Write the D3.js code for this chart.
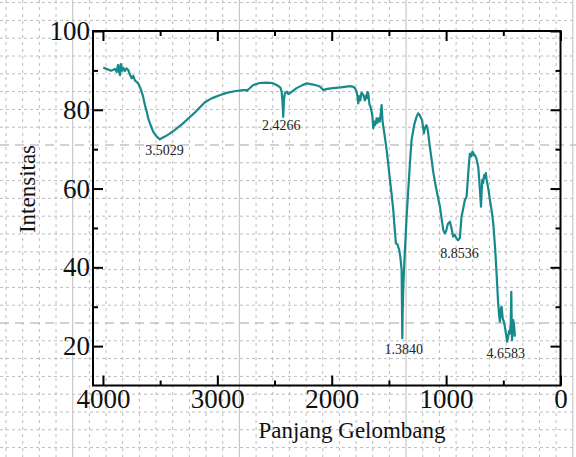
<!DOCTYPE html>
<html>
<head>
<meta charset="utf-8">
<script src="https://cdn.jsdelivr.net/npm/d3@7"></script>
<style>
  body { margin: 0; background: #fff; }
  svg { display: block; }
</style>
</head>
<body>
<svg id="chart" width="576" height="457"></svg>
<script>
// FTIR spectrum (wavenumber, %T)
const wavenumber = [
  3997, 3960, 3930, 3905, 3895, 3880, 3870, 3866, 3858, 3851, 3843, 3835, 3823, 3810,
  3795, 3779, 3765, 3749, 3735, 3720, 3705, 3690, 3675, 3662, 3648, 3633, 3618, 3604,
  3585, 3560, 3530, 3502, 3480, 3458, 3420, 3371, 3310, 3254, 3200, 3150, 3108, 3050,
  2980, 2919, 2850, 2774, 2755, 2744, 2720, 2686, 2630, 2569, 2520, 2482, 2450, 2438,
  2430, 2424, 2418, 2409, 2390, 2380, 2365, 2340, 2307, 2260, 2219, 2160, 2103, 2074,
  2040, 1987, 1920, 1841, 1810, 1797, 1790, 1783, 1775, 1768, 1760, 1750, 1740, 1724,
  1710, 1700, 1695, 1688, 1681, 1670, 1660, 1651, 1644, 1637, 1628, 1620, 1608, 1600,
  1593, 1580, 1570, 1564, 1556, 1549, 1535, 1520, 1505, 1491, 1475, 1462, 1450, 1439,
  1425, 1410, 1400, 1389, 1386, 1383, 1380, 1375, 1368, 1360, 1345, 1331, 1315, 1302,
  1280, 1259, 1244, 1230, 1210, 1200, 1194, 1185, 1171, 1160, 1142, 1125, 1113, 1090,
  1070, 1054, 1040, 1025, 1011, 1000, 985, 967, 955, 938, 925, 910, 894, 880, 865, 850,
  836, 821, 810, 798, 792, 780, 770, 763, 755, 748, 735, 719, 705, 695, 690, 684, 676,
  668, 661, 653, 646, 630, 617, 600, 588, 572, 559, 545, 537, 530, 522, 515, 505, 495,
  486, 476, 466, 458, 450, 442, 435, 430, 428, 424, 418, 413, 405, 399, 394, 390
]
const transmittance = [
  90.7, 90.3, 89.9, 90.2, 90.4, 89.6, 91.2, 91.4, 89.5, 88.8, 91.6, 89.9, 90.7, 89.8,
  90.5, 90.1, 89.0, 88.0, 88.6, 87.4, 87.1, 86.6, 85.6, 84.6, 83.2, 81.2, 79.6, 77.8,
  76.2, 74.4, 73.2, 72.5, 72.9, 73.2, 73.9, 74.9, 76.3, 77.8, 79.2, 80.7, 81.9, 82.9,
  83.7, 84.3, 84.7, 85.0, 85.0, 84.8, 85.4, 86.3, 86.8, 86.9, 86.8, 86.3, 85.7, 84.6,
  82.0, 78.2, 82.5, 84.2, 84.6, 84.0, 84.2, 84.8, 85.5, 86.2, 86.7, 86.4, 85.9, 85.0,
  85.3, 85.5, 85.7, 86.0, 85.8, 85.5, 85.1, 84.6, 83.4, 81.6, 83.5, 82.4, 84.3, 83.8,
  82.4, 83.6, 82.9, 84.5, 84.2, 81.4, 80.6, 79.5, 78.3, 75.3, 77.0, 76.1, 77.8, 76.7,
  77.8, 77.0, 79.4, 81.2, 77.2, 75.7, 73.0, 69.8, 66.0, 62.2, 58.2, 54.6, 50.0, 46.1,
  45.8, 44.4, 42.6, 39.3, 30.0, 22.0, 28.0, 34.2, 39.5, 44.4, 53.0, 59.6, 67.0, 72.3,
  76.0, 78.2, 79.1, 78.6, 77.3, 75.2, 74.0, 75.4, 76.1, 74.8, 70.6, 67.0, 64.3, 60.5,
  57.6, 55.4, 52.5, 49.5, 48.6, 49.2, 51.0, 51.6, 50.2, 47.8, 48.3, 47.4, 46.9, 47.5,
  52.9, 55.0, 57.1, 57.9, 62.5, 67.2, 68.9, 68.2, 69.4, 69.1, 68.4, 68.5, 67.6, 65.5,
  60.0, 55.4, 58.8, 62.2, 61.4, 63.4, 62.7, 63.9, 62.2, 59.8, 57.1, 54.0, 51.2, 45.0,
  38.5, 30.9, 28.0, 26.2, 29.4, 30.0, 27.0, 26.2, 24.9, 23.0, 21.1, 22.3, 23.8, 23.2,
  26.0, 33.8, 29.0, 21.5, 24.0, 26.6, 25.0, 22.4
]

// peak annotations: text and where it sits (wavenumber, %T)
const peakLabels = ['3.5029', '2.4266', '1.3840', '8.8536', '4.6583']
const peakLabelWn = [3462, 2441, 1371, 882, 479]
const peakLabelT = [68.6, 74.9, 18.1, 42.4, 17.0]

const xMajorTicks = [4000, 3000, 2000, 1000, 0]
const xMinorTicks = [3500, 2500, 1500, 500]
const yMajorTicks = [20, 40, 60, 80, 100]
const yMinorTicks = [30, 50, 70, 90]

const W = 576, H = 457
const svg = d3.select('#chart')
const margin = { top: 31, right: 15.5, bottom: 71.5, left: 93 }
const serif = '"Liberation Serif", "Times New Roman", serif'

// background paper grid
const grid = svg.append('g')
const hStep = 17.8, hMajor = 145
const vStep = 16.67, vMajor = 72.7
for (let k = -10; k <= 20; k++) {
  const yy = hMajor + k * hStep
  if (yy < 0 || yy > H) continue
  const major = k % 10 === 0
  grid.append('line')
    .attr('x1', 0).attr('x2', W).attr('y1', yy).attr('y2', yy)
    .attr('stroke', major ? '#c4c4c4' : '#bcbcbc')
    .attr('stroke-width', major ? 1.6 : 1)
    .attr('stroke-dasharray', major ? '9,6' : '3,3')
}
for (let k = -5; k <= 35; k++) {
  const xx = vMajor + k * vStep
  if (xx < 0 || xx > W) continue
  const major = k % 10 === 0
  grid.append('line')
    .attr('x1', xx).attr('x2', xx).attr('y1', 0).attr('y2', H)
    .attr('stroke', major ? '#c8c8c8' : '#bcbcbc')
    .attr('stroke-width', major ? 1.2 : 1)
    .attr('stroke-dasharray', major ? null : '3,4')
}

const x = d3.scaleLinear()
  .domain([4087, 0])
  .range([margin.left, W - margin.right])

const y = d3.scaleLinear()
  .domain([10, 100])
  .range([H - margin.bottom, margin.top])

const data = wavenumber.map((w, i) => ({ w: w, t: transmittance[i] }))

// spectrum
svg.append('path')
  .datum(data)
  .attr('fill', 'none')
  .attr('stroke', '#17898a')
  .attr('stroke-width', 2.2)
  .attr('stroke-linejoin', 'round')
  .attr('d', d3.line().x(d => x(d.w)).y(d => y(d.t)))

function styleAxis(g, fontSize) {
  g.select('.domain').remove()
  g.selectAll('.tick line').attr('stroke', '#000').attr('stroke-width', 2)
  g.selectAll('.tick text')
    .attr('fill', '#111')
    .style('font-family', serif)
    .style('font-size', fontSize + 'px')
}

const bottom = H - margin.bottom
const right = W - margin.right

svg.append('g')
  .attr('transform', 'translate(0,' + bottom + ')')
  .call(d3.axisBottom(x).tickValues(xMajorTicks).tickFormat(d3.format('d')).tickSize(-10).tickPadding(3))
  .call(g => styleAxis(g, 27))
svg.append('g')
  .attr('transform', 'translate(0,' + bottom + ')')
  .call(d3.axisBottom(x).tickValues(xMinorTicks).tickFormat('').tickSize(-5))
  .call(g => styleAxis(g, 27))
svg.append('g')
  .attr('transform', 'translate(0,' + margin.top + ')')
  .call(d3.axisTop(x).tickValues(xMajorTicks).tickFormat('').tickSize(-10))
  .call(g => styleAxis(g, 27))
svg.append('g')
  .attr('transform', 'translate(0,' + margin.top + ')')
  .call(d3.axisTop(x).tickValues(xMinorTicks).tickFormat('').tickSize(-5))
  .call(g => styleAxis(g, 27))

svg.append('g')
  .attr('transform', 'translate(' + margin.left + ',0)')
  .call(d3.axisLeft(y).tickValues(yMajorTicks).tickSize(-10).tickPadding(3))
  .call(g => styleAxis(g, 27))
svg.append('g')
  .attr('transform', 'translate(' + margin.left + ',0)')
  .call(d3.axisLeft(y).tickValues(yMinorTicks).tickFormat('').tickSize(-5))
  .call(g => styleAxis(g, 27))
svg.append('g')
  .attr('transform', 'translate(' + right + ',0)')
  .call(d3.axisRight(y).tickValues(yMajorTicks).tickFormat('').tickSize(-10))
  .call(g => styleAxis(g, 27))
svg.append('g')
  .attr('transform', 'translate(' + right + ',0)')
  .call(d3.axisRight(y).tickValues(yMinorTicks).tickFormat('').tickSize(-5))
  .call(g => styleAxis(g, 27))

// frame
svg.append('rect')
  .attr('x', margin.left)
  .attr('y', margin.top)
  .attr('width', right - margin.left)
  .attr('height', bottom - margin.top)
  .attr('fill', 'none')
  .attr('stroke', '#000')
  .attr('stroke-width', 2)

// peak labels
svg.append('g')
  .selectAll('text')
  .data(peakLabels)
  .enter()
  .append('text')
  .attr('x', (d, i) => x(peakLabelWn[i]))
  .attr('y', (d, i) => y(peakLabelT[i]))
  .attr('text-anchor', 'middle')
  .style('font-family', serif)
  .style('font-size', '14px')
  .attr('fill', '#222')
  .text(d => d)

// axis titles
svg.append('text')
  .attr('x', 352)
  .attr('y', 438)
  .attr('text-anchor', 'middle')
  .style('font-family', serif)
  .style('font-size', '23px')
  .attr('fill', '#111')
  .text('Panjang Gelombang')

svg.append('text')
  .attr('transform', 'translate(35,189) rotate(-90)')
  .attr('text-anchor', 'middle')
  .style('font-family', serif)
  .style('font-size', '23px')
  .attr('fill', '#111')
  .text('Intensitas')
</script>
</body>
</html>
